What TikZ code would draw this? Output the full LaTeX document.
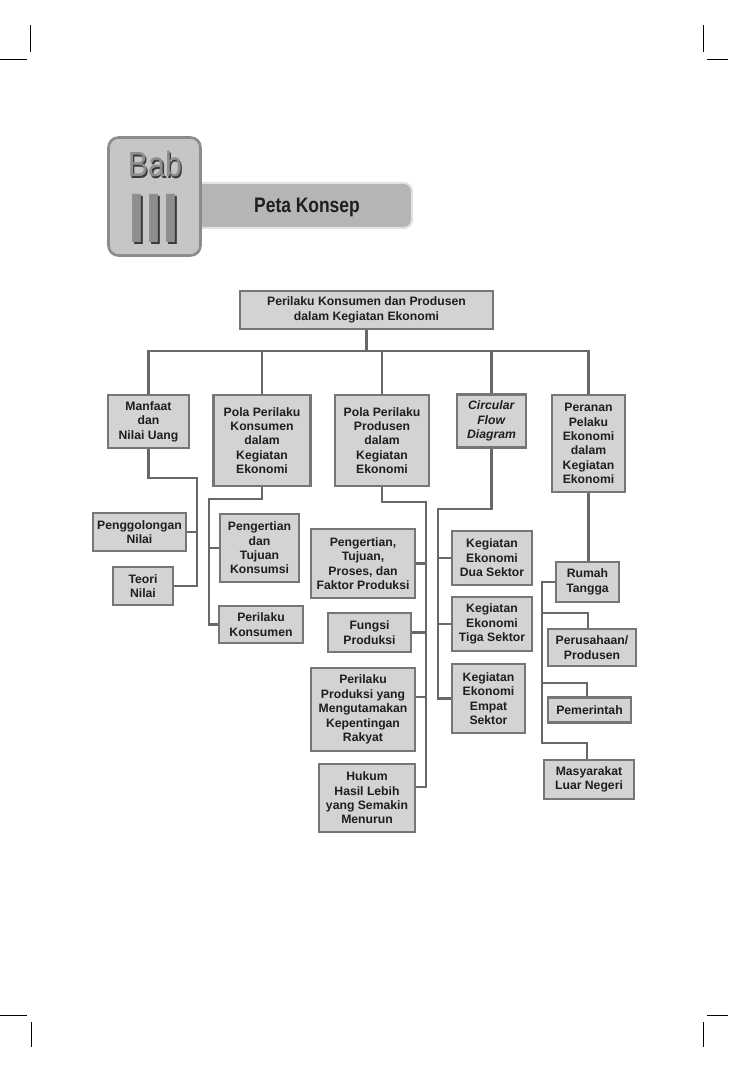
\documentclass[tikz,border=0pt]{standalone}
\usepackage{fontspec}
\usepackage{graphicx}
\usetikzlibrary{backgrounds}
\setmainfont{Liberation Sans}
\definecolor{boxfill}{HTML}{D3D3D3}
\definecolor{boxline}{HTML}{767676}
\definecolor{linecol}{HTML}{686868}
\definecolor{txtcol}{HTML}{1E1E1E}
\definecolor{babfill}{HTML}{C6C6C6}
\definecolor{babline}{HTML}{8C8C8C}
\definecolor{bannerfill}{HTML}{B5B5B5}
\definecolor{bannerline}{HTML}{E2E2E2}
\definecolor{babtext}{HTML}{8E8E8E}
\definecolor{babshadow}{HTML}{3A3A3A}
\newcommand\boxfont{\fontsize{12.2}{14.4}\selectfont\bfseries}
\tikzset{
  box/.style={draw=boxline, fill=boxfill, line width=2.6pt, inner sep=0pt,
    align=center, font=\boxfont, text=txtcol},
  conn/.style={draw=linecol, line width=2.9pt, line join=miter},
  crop/.style={draw=black, line width=0.8pt},
}
\begin{document}
\begin{tikzpicture}[x=1pt, y=-1pt]
\useasboundingbox (0,0) rectangle (728,1067);

% crop marks
\draw[crop] (30,25) -- (30,52);
\draw[crop] (0,59) -- (27,59);
\draw[crop] (703,25) -- (703,52);
\draw[crop] (707,59) -- (728,59);
\draw[crop] (0,1015) -- (27,1015);
\draw[crop] (31,1022) -- (31,1047);
\draw[crop] (707,1015) -- (728,1015);
\draw[crop] (703,1022) -- (703,1047);

% header
\draw[draw=bannerline, fill=bannerfill, line width=2pt, rounded corners=8pt]
  (190,183) rectangle (412,228);
\node[draw=babline, fill=babfill, line width=2.6pt, rounded corners=10pt,
  minimum width=92pt, minimum height=118pt, inner sep=0pt] (bab) at (154.5,196.5) {};
\node[anchor=base, text=babshadow, font=\fontsize{35}{35}\selectfont, inner sep=0pt]
  (babs) at (156.3,178.3) {\scalebox{0.87}[1]{Bab}};
\node[anchor=base, text=babtext, font=\fontsize{35}{35}\selectfont, inner sep=0pt]
  (babt) at (155,177) {\scalebox{0.87}[1]{Bab}};
\node[anchor=base, text=babshadow, font=\fontsize{70}{70}\selectfont\bfseries, inner sep=0pt]
  (roms) at (156,244.5) {\scalebox{0.87}[1]{III}};
\node[anchor=base, text=babtext, font=\fontsize{70}{70}\selectfont\bfseries, inner sep=0pt]
  (romt) at (154,243) {\scalebox{0.87}[1]{III}};
\node[anchor=base, text=txtcol, font=\fontsize{21}{21}\selectfont\bfseries, inner sep=0pt]
  (peta) at (307,213) {\scalebox{0.83}[1]{Peta Konsep}};

% coordinates for connector bends
\coordinate (bar) at (368,351);
\coordinate (m1) at (197,478);
\coordinate (k1) at (209,499);
\coordinate (p1) at (426,502);
\coordinate (c1) at (438,509);
\coordinate (rp) at (542,613);
\coordinate (rg) at (542,683);
\coordinate (rb) at (542,743);

% boxes
\node[box, minimum width=253pt, minimum height=38pt] (top) at (366.5,310)
  {Perilaku Konsumen dan Produsen\\dalam Kegiatan Ekonomi};
\node[box, minimum width=81pt, minimum height=53pt] (manfaat) at (148.5,421.5)
  {Manfaat\\dan\\Nilai Uang};
\node[box, minimum width=97pt, minimum height=91pt] (pk) at (262,440.5)
  {Pola Perilaku\\Konsumen\\dalam\\Kegiatan\\Ekonomi};
\node[box, minimum width=94pt, minimum height=91pt] (pp) at (382,440.5)
  {Pola Perilaku\\Produsen\\dalam\\Kegiatan\\Ekonomi};
\node[box, minimum width=69pt, minimum height=53pt] (cfd) at (491.5,421)
  {\textit{Circular}\\\textit{Flow}\\\textit{Diagram}};
\node[box, minimum width=73pt, minimum height=97pt] (peranan) at (588.5,443.5)
  {Peranan\\Pelaku\\Ekonomi\\dalam\\Kegiatan\\Ekonomi};
\node[box, minimum width=93pt, minimum height=38pt] (peng) at (139.5,532)
  {Penggolongan\\Nilai};
\node[box, minimum width=60pt, minimum height=38pt] (teori) at (143,586)
  {Teori\\Nilai};
\node[box, minimum width=79pt, minimum height=68pt] (pdt) at (259.5,548)
  {Pengertian\\dan\\Tujuan\\Konsumsi};
\node[box, minimum width=84pt, minimum height=37pt] (pkon) at (261,624.5)
  {Perilaku\\Konsumen};
\node[box, minimum width=104pt, minimum height=69pt] (pp1) at (363,563.5)
  {Pengertian,\\Tujuan,\\Proses, dan\\Faktor Produksi};
\node[box, minimum width=83pt, minimum height=39pt] (fungsi) at (369.5,632.5)
  {Fungsi\\Produksi};
\node[box, minimum width=104pt, minimum height=83pt] (perprod) at (363,709.5)
  {Perilaku\\Produksi yang\\Mengutamakan\\Kepentingan\\Rakyat};
\node[box, minimum width=96pt, minimum height=68pt] (hukum) at (367,798)
  {Hukum\\Hasil Lebih\\yang Semakin\\Menurun};
\node[box, minimum width=80pt, minimum height=54pt] (dua) at (492,558)
  {Kegiatan\\Ekonomi\\Dua Sektor};
\node[box, minimum width=80pt, minimum height=54pt] (tiga) at (492,624)
  {Kegiatan\\Ekonomi\\Tiga Sektor};
\node[box, minimum width=73pt, minimum height=69pt] (empat) at (488.5,698.5)
  {Kegiatan\\Ekonomi\\Empat\\Sektor};
\node[box, minimum width=63pt, minimum height=40pt] (rumah) at (587.5,582)
  {Rumah\\Tangga};
\node[box, minimum width=88pt, minimum height=37pt] (perus) at (592,647.5)
  {Perusahaan/\\Produsen};
\node[box, minimum width=83pt, minimum height=25pt] (pem) at (589.5,710)
  {Pemerintah};
\node[box, minimum width=90pt, minimum height=39pt] (masy) at (589,779.5)
  {Masyarakat\\Luar Negeri};

\coordinate (hk) at ([yshift=11pt]hukum.east);
\coordinate (ppr) at ([yshift=12.5pt]perprod.east);

% connectors (behind boxes)
\begin{scope}[on background layer]
\fill[white] (0,0) rectangle (728,1067);
\draw[conn] (top.south) -- (top.south |- bar);
\draw[conn] (manfaat.north) |- (bar) -| (peranan.north);
\draw[conn] (pk.north) -- (pk.north |- bar);
\draw[conn] (pp.north) -- (pp.north |- bar);
\draw[conn] (cfd.north) -- (cfd.north |- bar);

\draw[conn] (manfaat.south) |- (m1) -- (m1 |- teori.east) -- (teori.east);
\draw[conn] (m1 |- peng.east) -- (peng.east);

\draw[conn] (pk.south) |- (k1) -- (k1 |- pkon.west) -- (pkon.west);
\draw[conn] (k1 |- pdt.west) -- (pdt.west);

\draw[conn] (pp.south) |- (p1) -- (p1 |- hk) -- (hk);
\draw[conn] (p1 |- pp1.east) -- (pp1.east);
\draw[conn] (p1 |- fungsi.east) -- (fungsi.east);
\draw[conn] (p1 |- ppr) -- (ppr);

\draw[conn] (cfd.south) |- (c1) -- (c1 |- empat.west) -- (empat.west);
\draw[conn] (c1 |- dua.west) -- (dua.west);
\draw[conn] (c1 |- tiga.west) -- (tiga.west);

\draw[conn] (peranan.south) -- (peranan.south |- rumah.north);
\draw[conn] (rumah.west) -| (rb) -| ([xshift=-2pt]masy.north);
\draw[conn] (rp) -| ([xshift=-4pt]perus.north);
\draw[conn] (rg) -| ([xshift=-2.5pt]pem.north);
\end{scope}
\end{tikzpicture}
\end{document}
